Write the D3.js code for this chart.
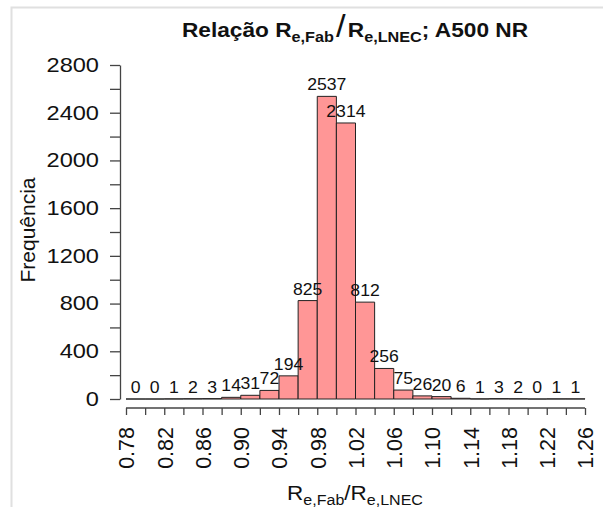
<!DOCTYPE html>
<html>
<head>
<meta charset="utf-8">
<script src="https://cdn.jsdelivr.net/npm/d3@7"></script>
<style>
  body { margin: 0; background: #fff; }
  svg text { font-family: "Liberation Sans", Arial, sans-serif; fill: #111; }
</style>
</head>
<body>
<div id="chart"></div>
<script>
// histogram breaks (left edges) and counts
const binStart = [0.78, 0.80, 0.82, 0.84, 0.86, 0.88, 0.90, 0.92, 0.94, 0.96, 0.98, 1.00,
                  1.02, 1.04, 1.06, 1.08, 1.10, 1.12, 1.14, 1.16, 1.18, 1.20, 1.22, 1.24];
const counts = [0, 0, 1, 2, 3, 14, 31, 72, 194, 825, 2537, 2314,
                812, 256, 75, 26, 20, 6, 1, 3, 2, 0, 1, 1];
const binWidth = 0.02;
const xTicks = d3.range(0, 25).map(i => +(0.78 + i * 0.02).toFixed(2));
const xLabels = ["0.78", "0.82", "0.86", "0.90", "0.94", "0.98", "1.02", "1.06", "1.10", "1.14", "1.18", "1.22", "1.26"];
const yTicks = d3.range(0, 3000, 200);
const yLabels = [0, 400, 800, 1200, 1600, 2000, 2400, 2800];

const width = 603, height = 507;

const svg = d3.select("#chart").append("svg")
    .attr("width", width)
    .attr("height", height);

// light frame at top / left
svg.append("path")
    .attr("d", "M11.5,507V7.5H603")
    .attr("fill", "none")
    .attr("stroke", "#e0e0e0")
    .attr("stroke-width", 2);

const x = d3.scaleLinear().domain([0.78, 1.26]).range([126, 585]);
const y = d3.scaleLinear().domain([0, 2800]).range([399, 65]);

// bars (paths so that empty bins still show as a flat line)
svg.selectAll("path.bar")
    .data(counts)
    .enter().append("path")
    .attr("class", "bar")
    .attr("d", (d, i) => {
        const x0 = x(binStart[i]), x1 = x(binStart[i] + binWidth);
        return `M${x0},${y(0)}V${y(d)}H${x1}V${y(0)}Z`;
    })
    .attr("fill", "#ff9696")
    .attr("stroke", "#222")
    .attr("stroke-width", 1);

// count labels
svg.selectAll("text.count")
    .data(counts)
    .enter().append("text")
    .attr("class", "count")
    .attr("transform", (d, i) =>
        `translate(${x(binStart[i] + binWidth / 2)},${y(d) - 6}) scale(1.07,1)`)
    .attr("text-anchor", "middle")
    .attr("font-size", 16.5)
    .text(d => d);

// y axis
const yAxis = svg.append("g")
    .attr("transform", "translate(120,0)")
    .call(d3.axisLeft(y)
        .tickValues(yTicks)
        .tickSize(10)
        .tickSizeOuter(0)
        .tickPadding(11)
        .tickFormat(d => yLabels.includes(d) ? d : ""));
yAxis.selectAll("text")
    .attr("font-size", 20)
    .attr("font-family", null)
    .attr("fill", "#111")
    .attr("x", 0)
    .attr("transform", "translate(-21,0) scale(1.18,1)");
yAxis.selectAll("line, path").attr("stroke", "#444").attr("stroke-width", 1.3);

// x axis
const xAxis = svg.append("g")
    .attr("transform", "translate(0,408)")
    .call(d3.axisBottom(x)
        .tickValues(xTicks)
        .tickSize(7)
        .tickSizeOuter(0)
        .tickFormat(d => xLabels.includes(d.toFixed(2)) ? d.toFixed(2) : ""));
xAxis.selectAll("text")
    .attr("font-size", 21.5)
    .attr("font-family", null)
    .attr("fill", "#111")
    .attr("text-anchor", "end")
    .attr("transform", "rotate(-90)")
    .attr("x", -19)
    .attr("y", 0)
    .attr("dy", "0.36em");
xAxis.selectAll("line, path").attr("stroke", "#444").attr("stroke-width", 1.3);
xAxis.select(".domain").remove();
xAxis.append("line")
    .attr("x1", x(0.78)).attr("x2", x(1.26))
    .attr("stroke", "#444").attr("stroke-width", 1.3);

// y title
svg.append("text")
    .attr("transform", "translate(35,230) rotate(-90)")
    .attr("text-anchor", "middle")
    .attr("font-size", 21)
    .text("Frequência");

// x title
const xt = svg.append("text")
    .attr("transform", "translate(355,500) scale(1.07,1)")
    .attr("text-anchor", "middle")
    .attr("font-size", 21);
xt.append("tspan").text("R");
xt.append("tspan").attr("font-size", 15).attr("dy", 5).text("e,Fab");
xt.append("tspan").attr("dy", -5).text("/R");
xt.append("tspan").attr("font-size", 15).attr("dy", 5).text("e,LNEC");

// title
const tt = svg.append("text")
    .attr("transform", "translate(355,37) scale(1.08,1)")
    .attr("text-anchor", "middle")
    .attr("font-size", 21)
    .attr("font-weight", "bold");
tt.append("tspan").text("Relação R");
tt.append("tspan").attr("font-size", 15).attr("dy", 5).text("e,Fab");
tt.append("tspan").attr("dy", -5).attr("dx", 2).attr("font-weight", "normal").attr("font-size", 32).text("/");
tt.append("tspan").attr("dx", 2).text("R");
tt.append("tspan").attr("font-size", 15).attr("dy", 5).text("e,LNEC");
tt.append("tspan").attr("dy", -5).text("; A500 NR");
</script>
</body>
</html>
